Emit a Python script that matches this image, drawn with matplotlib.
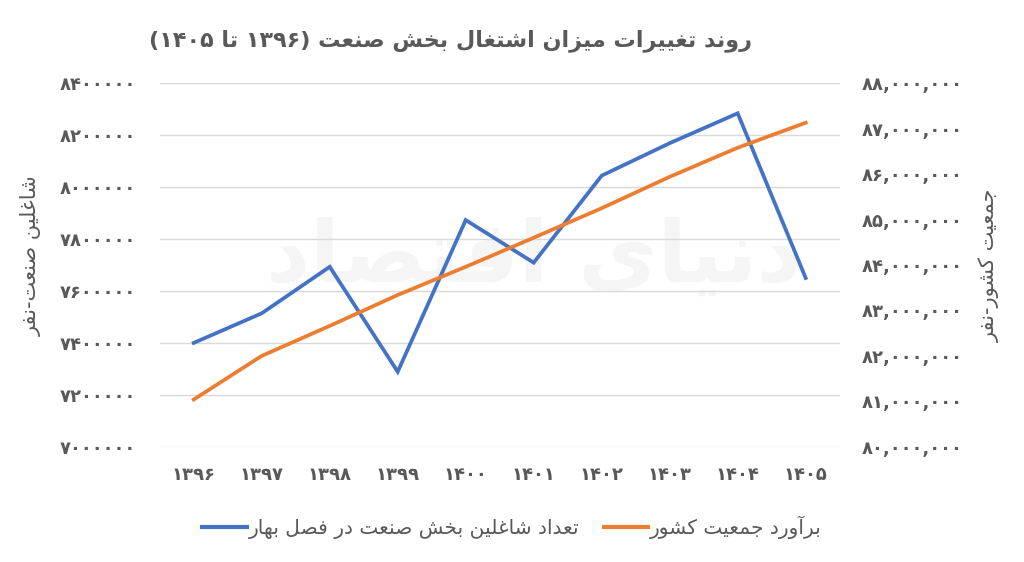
import matplotlib
matplotlib.use("Agg")
import matplotlib.pyplot as plt
from matplotlib.lines import Line2D

# --- data ---
years = ["۱۳۹۶", "۱۳۹۷", "۱۳۹۸", "۱۳۹۹", "۱۴۰۰", "۱۴۰۱", "۱۴۰۲", "۱۴۰۳", "۱۴۰۴", "۱۴۰۵"]
employed = [7400000, 7514000, 7693000, 7289000, 7873000, 7709000, 8044000, 8169000, 8284000, 7650000]
population = [81040000, 82000000, 82660000, 83340000, 83960000, 84600000, 85250000, 85940000, 86580000, 87130000]
left_ticks = [7000000, 7200000, 7400000, 7600000, 7800000, 8000000, 8200000, 8400000]
right_ticks = [80000000, 81000000, 82000000, 83000000, 84000000, 85000000, 86000000, 87000000, 88000000]

title = "روند تغییرات میزان اشتغال بخش صنعت (۱۳۹۶ تا ۱۴۰۵)"
left_label = "شاغلین صنعت-نفر"
right_label = "جمعیت کشور-نفر"
name_employed = "تعداد شاغلین بخش صنعت در فصل بهار"
name_population = "برآورد جمعیت کشور"
watermark = "دنیای اقتصاد"

BLUE = "#4472C4"
ORANGE = "#ED7D31"
GREY = "#595959"

# matplotlib does no arabic shaping, so map letters to presentation forms
# (isolated, final, initial, medial); two forms = joins only to the right
FORMS = {
    "ا": "\uFE8D\uFE8E", "آ": "\uFE81\uFE82",
    "ب": "\uFE8F\uFE90\uFE91\uFE92", "پ": "\uFB56\uFB57\uFB58\uFB59",
    "ت": "\uFE95\uFE96\uFE97\uFE98", "ث": "\uFE99\uFE9A\uFE9B\uFE9C",
    "ج": "\uFE9D\uFE9E\uFE9F\uFEA0", "چ": "\uFB7A\uFB7B\uFB7C\uFB7D",
    "ح": "\uFEA1\uFEA2\uFEA3\uFEA4", "خ": "\uFEA5\uFEA6\uFEA7\uFEA8",
    "د": "\uFEA9\uFEAA", "ذ": "\uFEAB\uFEAC", "ر": "\uFEAD\uFEAE",
    "ز": "\uFEAF\uFEB0", "ژ": "\uFB8A\uFB8B",
    "س": "\uFEB1\uFEB2\uFEB3\uFEB4", "ش": "\uFEB5\uFEB6\uFEB7\uFEB8",
    "ص": "\uFEB9\uFEBA\uFEBB\uFEBC", "ض": "\uFEBD\uFEBE\uFEBF\uFEC0",
    "ط": "\uFEC1\uFEC2\uFEC3\uFEC4", "ظ": "\uFEC5\uFEC6\uFEC7\uFEC8",
    "ع": "\uFEC9\uFECA\uFECB\uFECC", "غ": "\uFECD\uFECE\uFECF\uFED0",
    "ف": "\uFED1\uFED2\uFED3\uFED4", "ق": "\uFED5\uFED6\uFED7\uFED8",
    "ک": "\uFB8E\uFB8F\uFB90\uFB91", "گ": "\uFB92\uFB93\uFB94\uFB95",
    "ل": "\uFEDD\uFEDE\uFEDF\uFEE0", "م": "\uFEE1\uFEE2\uFEE3\uFEE4",
    "ن": "\uFEE5\uFEE6\uFEE7\uFEE8", "ه": "\uFEE9\uFEEA\uFEEB\uFEEC",
    "و": "\uFEED\uFEEE", "ی": "\uFBFC\uFBFD\uFBFE\uFBFF",
}
DIGITS = set("۰۱۲۳۴۵۶۷۸۹0123456789,")


def shape(s):
    out = []
    for i, ch in enumerate(s):
        f = FORMS.get(ch)
        if f is None:
            out.append(ch)
            continue
        prev = s[i - 1] if i > 0 else ""
        nxt = s[i + 1] if i + 1 < len(s) else ""
        join_prev = prev in FORMS and len(FORMS[prev]) == 4
        join_next = len(f) == 4 and nxt in FORMS
        if join_prev and join_next:
            out.append(f[3])
        elif join_prev:
            out.append(f[1])
        elif join_next:
            out.append(f[2])
        else:
            out.append(f[0])
    return "".join(out)


def fa(s):
    # naive rtl: reverse all, put digit runs back in order, mirror brackets
    r = shape(s)[::-1]
    res, run = [], ""
    for ch in r:
        if ch in DIGITS:
            run += ch
        else:
            if run:
                res.append(run[::-1]); run = ""
            res.append({"(": ")", ")": "("}.get(ch, ch))
    if run:
        res.append(run[::-1])
    return "".join(res)


def fa_num(v, sep=False):
    s = f"{v:,}" if sep else str(v)
    return s.translate(str.maketrans("0123456789", "۰۱۲۳۴۵۶۷۸۹"))


plt.rcParams["font.family"] = ["DejaVu Sans"]
fig = plt.figure(figsize=(10.24, 5.62), dpi=100)
ax = fig.add_axes([0.156, 0.205, 0.664, 0.647])
ax2 = ax.twinx()

x = list(range(len(years)))
ax.plot(x, employed, color=BLUE, lw=2.7, solid_joinstyle="miter", zorder=3)
ax2.plot(x, population, color=ORANGE, lw=2.7, zorder=3)

ax.set_xlim(-0.5, len(years) - 0.5)
ax.set_ylim(left_ticks[0], left_ticks[-1])
ax2.set_ylim(right_ticks[0], right_ticks[-1])
ax.set_yticks(left_ticks)
ax.set_yticklabels([fa_num(v) for v in left_ticks])
ax2.set_yticks(right_ticks)
ax2.set_yticklabels([fa_num(v, sep=True) for v in right_ticks])
ax.set_xticks(x)
ax.set_xticklabels(years)
ax.grid(axis="y", color="#d9d9d9", lw=1.0)
ax.set_axisbelow(True)
for a in (ax, ax2):
    for sp in a.spines.values():
        sp.set_visible(False)
ax.tick_params(axis="both", length=0, colors=GREY, labelsize=13)
ax.tick_params(axis="y", pad=17)
ax.tick_params(axis="x", pad=14)
ax2.tick_params(axis="y", length=0, colors=GREY, labelsize=13, pad=16)
for lab in ax.get_xticklabels() + ax.get_yticklabels() + ax2.get_yticklabels():
    lab.set_fontweight("bold")

# faint watermark behind the lines
ax.text(0.55, 0.52, fa(watermark), transform=ax.transAxes, fontsize=62,
        color="#f5f5f5", ha="center", va="center", fontweight="bold", zorder=0)

fig.text(0.44, 0.928, fa(title), fontsize=16, fontweight="bold", color=GREY,
         ha="center", va="center")
fig.text(0.031, 0.545, fa(left_label), fontsize=15, color=GREY, rotation=90,
         ha="center", va="center")
fig.text(0.966, 0.528, fa(right_label), fontsize=15, color=GREY, rotation=90,
         ha="center", va="center")

handles = [Line2D([], [], color=BLUE, lw=3), Line2D([], [], color=ORANGE, lw=3)]
fig.legend(handles, [fa(name_employed), fa(name_population)], loc="center",
           bbox_to_anchor=(0.5, 0.062), ncol=2, frameon=False, fontsize=14.5,
           labelcolor=GREY, handlelength=2.2, handletextpad=0.1, columnspacing=1.2)

fig.savefig("out.png", dpi=100, facecolor="white")
